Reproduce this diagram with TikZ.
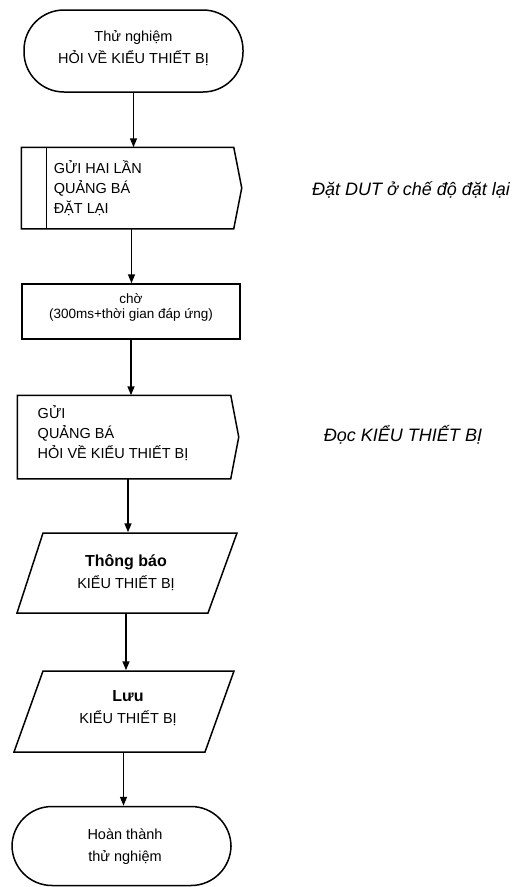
\documentclass[tikz,border=0pt]{standalone}
\usepackage{fontspec}
\setmainfont{Liberation Sans}
\usetikzlibrary{arrows.meta}
\begin{document}
\begin{tikzpicture}[x=1pt,y=-1pt,line width=1.5pt,
  frame/.style={inner sep=0pt,minimum width=#1},
  term/.style={draw,rounded corners=40pt,inner sep=0pt,minimum width=219pt,minimum height=80pt},
  txt/.style={inner sep=0pt,align=center,font=\fontsize{14.5}{22}\selectfont},
  ltxt/.style={inner sep=0pt,align=left,anchor=west,font=\fontsize{14.5}{20}\selectfont},
  note/.style={inner sep=0pt,font=\fontsize{18}{20}\selectfont\itshape},
  arr/.style={-{Triangle[length=9pt,width=7pt]},line width=1.5pt}]
\useasboundingbox (0,0) rectangle (516,887);

% start terminal
\node[term,minimum height=82pt] (start) at (133.5,51) {};
\node[txt] (startt) at (133.5,48.5) {Thử nghiệm\\HỎI VỀ KIỂU THIẾT BỊ};

% send twice broadcast reset
\node[frame=219pt,minimum height=80pt] (send1) at (131.5,188) {};
\draw (send1.north west) -- ([xshift=-8pt]send1.north east) -- (send1.east)
  -- ([xshift=-8pt]send1.south east) -- (send1.south west) -- cycle;
\draw ([xshift=25pt]send1.north west) -- ([xshift=25pt]send1.south west);
\node[ltxt] (send1t) at (53,188) {GỬI HAI LẦN\\QUẢNG BÁ\\ĐẶT LẠI};
\node[note] (note1) at (411,190) {Đặt DUT ở chế độ đặt lại};

% wait
\node[draw,frame=218pt,minimum height=55pt] (wait) at (131,311.5) {};
\node[inner sep=0pt,align=center,font=\fontsize{13.5}{15}\selectfont] (waitt) at (131,307.5) {chờ\\(300ms+thời gian đáp ứng)};

% send broadcast query
\node[frame=220pt,minimum height=82pt] (send2) at (128,437) {};
\draw (send2.north west) -- ([xshift=-8pt]send2.north east) -- (send2.east)
  -- ([xshift=-8pt]send2.south east) -- (send2.south west) -- cycle;
\node[ltxt] (send2t) at (37,433) {GỬI\\QUẢNG BÁ\\HỎI VỀ KIỂU THIẾT BỊ};
\node[note] (note2) at (403,435) {Đọc KIỂU THIẾT BỊ};

% display
\node[frame=220pt,minimum height=80pt] (disp) at (126,573) {};
\draw (43,533) -- (237,533) -- (208,613) -- (17,613) -- cycle;
\node[txt] (dispt) at (126,572.5) {\textbf{\fontsize{16}{22}\selectfont Thông báo}\\KIỂU THIẾT BỊ};

% store
\node[frame=220pt,minimum height=81pt] (store) at (123.5,711.5) {};
\draw (43,671) -- (234,671) -- (205,752) -- (14,752) -- cycle;
\node[txt] (storet) at (128,708) {\textbf{\fontsize{16}{22}\selectfont Lưu}\\KIỂU THIẾT BỊ};

% end terminal
\node[term,minimum height=79pt] (finish) at (121.5,846) {};
\node[txt] (finisht) at (125,847) {Hoàn thành\\thử nghiệm};

% connectors
\draw[arr] (start.south) -- (start.south |- send1.north);
\draw[arr] (send1.south) -- (send1.south |- wait.north);
\draw[arr] (wait.south) -- (wait.south |- send2.north);
\draw[arr] (send2.south) -- (send2.south |- disp.north);
\draw[arr] (disp.south) -- (disp.south |- store.north);
\draw[arr] (store.south) -- (store.south |- finish.north);
\end{tikzpicture}
\end{document}
